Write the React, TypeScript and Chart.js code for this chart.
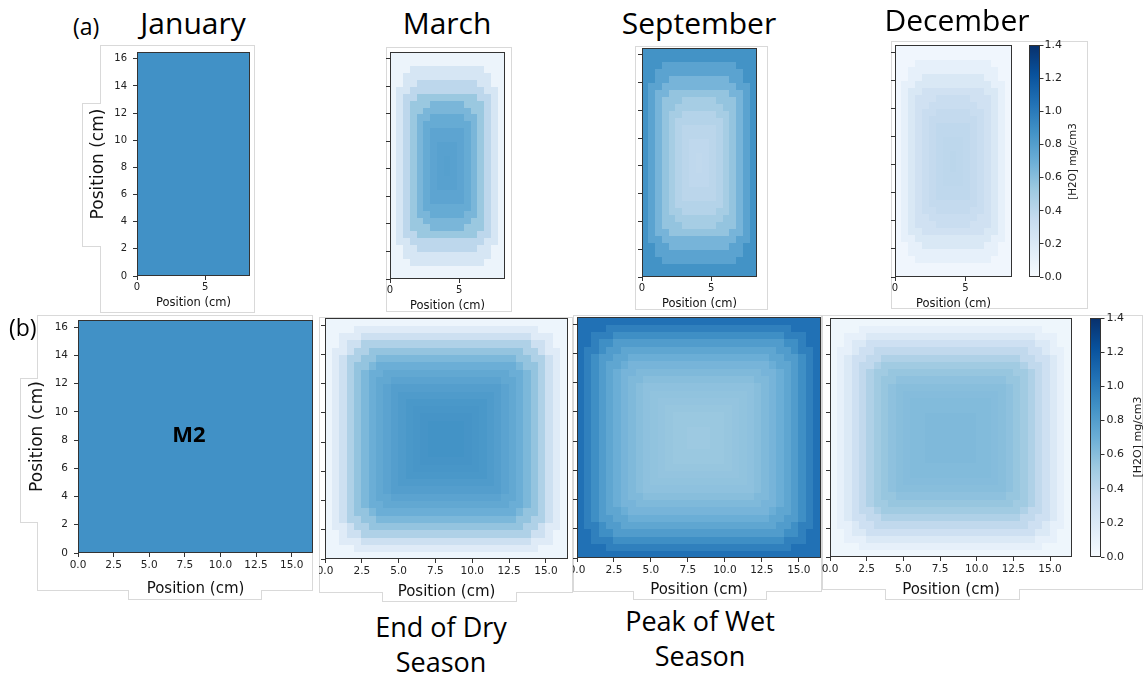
import React, { useEffect, useRef } from 'react';
import { Chart, registerables } from 'chart.js';

Chart.register(...registerables);
Chart.defaults.font.family = "'DejaVu Sans', sans-serif";

// ---------- text ----------
const MONTHS = ['January', 'March', 'September', 'December'];
const SEASON_DRY = ['End of Dry', 'Season'];
const SEASON_WET = ['Peak of Wet', 'Season'];
const AXIS_LABEL = 'Position (cm)';
const CBAR_LABEL = '[H2O] mg/cm3';
const PANEL_TAGS = ['(a)', '(b)'];
const MARK_LABEL = 'M2';

// ---------- ticks ----------
const Y_TICKS = [0, 2, 4, 6, 8, 10, 12, 14, 16];
const X_TICKS_A = [0, 5];
const X_TICKS_B = [0, 2.5, 5, 7.5, 10, 12.5, 15];
const CBAR_TICKS = [0, 0.2, 0.4, 0.6, 0.8, 1.0, 1.2, 1.4];

// ---------- domain ----------
const X_EXTENT_A = 8.3;
const X_EXTENT_B = 16.5;
const Y_EXTENT = 16.5;
const CELLS_A = [17, 33];
const CELLS_B = [33, 33];
const V_MAX = 1.4;

// ---------- [H2O] (mg/cm3) per ring, outermost ring first ----------
const JAN_A = [0.88];
const MAR_A = [0.08, 0.23, 0.39, 0.54, 0.65, 0.72, 0.76, 0.78, 0.79];
const SEP_A = [0.87, 0.77, 0.66, 0.56, 0.49, 0.43, 0.4, 0.38, 0.37];
const DEC_A = [0.05, 0.12, 0.21, 0.28, 0.33, 0.36, 0.38, 0.39, 0.4];

const JAN_B = [0.88];
const MAR_B = [0.07, 0.17, 0.3, 0.45, 0.56, 0.64, 0.7, 0.74, 0.77, 0.8, 0.82, 0.84, 0.85, 0.86, 0.87, 0.87, 0.87];
const SEP_B = [1.05, 0.97, 0.89, 0.81, 0.75, 0.7, 0.66, 0.63, 0.6, 0.58, 0.57, 0.56, 0.55, 0.54, 0.54, 0.53, 0.53];
const DEC_B = [0.06, 0.12, 0.2, 0.29, 0.37, 0.45, 0.51, 0.55, 0.58, 0.6, 0.61, 0.62, 0.62, 0.63, 0.63, 0.63, 0.63];

// ---------- colormap (matplotlib Blues) ----------
const BLUES = ['#f7fbff', '#deebf7', '#c6dbef', '#9ecae1', '#6baed6', '#4292c6', '#2171b5', '#08519c', '#08306b'];
const hex = (h: string) => [1, 3, 5].map((k) => parseInt(h.slice(k, k + 2), 16));
const BLUES_RGB = BLUES.map(hex);
function blues(t: number): string {
  const tt = Math.max(0, Math.min(1, t)) * (BLUES.length - 1);
  const i = Math.min(BLUES.length - 2, Math.floor(tt));
  const f = tt - i;
  const a = BLUES_RGB[i], b = BLUES_RGB[i + 1];
  const c = a.map((v, k) => Math.round(v + (b[k] - v) * f));
  return `rgb(${c[0]},${c[1]},${c[2]})`;
}

type Box = { l: number; t: number; r: number; b: number };

type HeatSpec = {
  canvas: Box;
  plot: Box;
  xMax: number;
  cells: number[];
  rings: number[];
  shape: number;
  xTicks: number[];
  xDecimals: number;
  tickSize: number;
  showYLabels: boolean;
  yTitleOffset?: number;
  xTitleSize: number;
  xTitleOffset: number;
};

const TICK_COLOR = '#222';
const FRAME_COLOR = '#333';

const PANELS: HeatSpec[] = [
  { canvas: { l: 82, t: 45, r: 256, b: 313 }, plot: { l: 137, t: 52, r: 250, b: 276 }, xMax: X_EXTENT_A, cells: CELLS_A, rings: JAN_A, shape: 4.5, xTicks: X_TICKS_A, xDecimals: 0, tickSize: 10, showYLabels: true, yTitleOffset: 17, xTitleSize: 11.5, xTitleOffset: 9.7 },
  { canvas: { l: 386, t: 47, r: 512, b: 312 }, plot: { l: 390, t: 52, r: 505, b: 279 }, xMax: X_EXTENT_A, cells: CELLS_A, rings: MAR_A, shape: 4.5, xTicks: X_TICKS_A, xDecimals: 0, tickSize: 10, showYLabels: false, xTitleSize: 11.5, xTitleOffset: 6 },
  { canvas: { l: 635, t: 46, r: 768, b: 310 }, plot: { l: 642, t: 48, r: 757, b: 277 }, xMax: X_EXTENT_A, cells: CELLS_A, rings: SEP_A, shape: 4.5, xTicks: X_TICKS_A, xDecimals: 0, tickSize: 10, showYLabels: false, xTitleSize: 11.5, xTitleOffset: 6 },
  { canvas: { l: 891, t: 41, r: 1020, b: 310 }, plot: { l: 895, t: 45, r: 1012, b: 277 }, xMax: X_EXTENT_A, cells: CELLS_A, rings: DEC_A, shape: 4.5, xTicks: X_TICKS_A, xDecimals: 0, tickSize: 10, showYLabels: false, xTitleSize: 11.5, xTitleOffset: 5.7 },
  { canvas: { l: 20, t: 315, r: 314, b: 600 }, plot: { l: 78, t: 320, r: 313, b: 553 }, xMax: X_EXTENT_B, cells: CELLS_B, rings: JAN_B, shape: 7, xTicks: X_TICKS_B, xDecimals: 1, tickSize: 10.5, showYLabels: true, yTitleOffset: 18, xTitleSize: 15, xTitleOffset: 11 },
  { canvas: { l: 319, t: 316, r: 573, b: 602 }, plot: { l: 325, t: 318, r: 568, b: 559 }, xMax: X_EXTENT_B, cells: CELLS_B, rings: MAR_B, shape: 7, xTicks: X_TICKS_B, xDecimals: 1, tickSize: 10.5, showYLabels: false, xTitleSize: 15, xTitleOffset: 10.3 },
  { canvas: { l: 573, t: 315, r: 822, b: 600 }, plot: { l: 577, t: 317, r: 821, b: 558 }, xMax: X_EXTENT_B, cells: CELLS_B, rings: SEP_B, shape: 7, xTicks: X_TICKS_B, xDecimals: 1, tickSize: 10.5, showYLabels: false, xTitleSize: 15, xTitleOffset: 10 },
  { canvas: { l: 822, t: 315, r: 1086, b: 600 }, plot: { l: 830, t: 318, r: 1072, b: 557 }, xMax: X_EXTENT_B, cells: CELLS_B, rings: DEC_B, shape: 7, xTicks: X_TICKS_B, xDecimals: 1, tickSize: 10.5, showYLabels: false, xTitleSize: 15, xTitleOffset: 10 },
];

type CbarSpec = { canvas: Box; plot: Box; labelX: number; labelY: number; labelSize: number; tickSize: number; tickPad: number };
const CBARS: CbarSpec[] = [
  { canvas: { l: 1020, t: 38, r: 1090, b: 290 }, plot: { l: 1029, t: 45, r: 1040, b: 277 }, labelX: 1073, labelY: 161.5, labelSize: 10.4, tickSize: 11, tickPad: 1 },
  { canvas: { l: 1086, t: 310, r: 1143, b: 570 }, plot: { l: 1090, t: 318, r: 1101, b: 557 }, labelX: 1138, labelY: 437, labelSize: 11, tickSize: 11, tickPad: 2 },
];

function ringValue(rings: number[], i: number, j: number, nx: number, ny: number, pn: number): number {
  const u = ((i + 0.5) / nx) * 2 - 1;
  const v = ((j + 0.5) / ny) * 2 - 1;
  const r = Math.pow(Math.pow(Math.abs(u), pn) + Math.pow(Math.abs(v), pn), 1 / pn);
  const R = rings.length;
  const k = Math.max(0, Math.min(R - 1, Math.floor((1 - r) * R)));
  return rings[k];
}

function strokeFrame(chart: any) {
  const { ctx, chartArea: a } = chart;
  ctx.save();
  ctx.strokeStyle = FRAME_COLOR;
  ctx.lineWidth = 1;
  ctx.strokeRect(Math.round(a.left) + 0.5, Math.round(a.top) + 0.5, Math.round(a.right - a.left) - 1, Math.round(a.bottom - a.top) - 1);
  ctx.restore();
}

const fixTicks = (arr: number[]) => (s: any) => {
  s.ticks = arr.map((v) => ({ value: v }));
};

function makeHeat(canvas: HTMLCanvasElement, s: HeatSpec) {
  const c = s.canvas, p = s.plot;
  const plugin = {
    id: 'heatmapCells',
    beforeDatasetsDraw(chart: any) {
      const { ctx, chartArea: a, scales } = chart;
      const xs = scales.x, ys = scales.y;
      const [nx, ny] = s.cells;
      const dx = s.xMax / nx, dy = Y_EXTENT / ny;
      ctx.save();
      ctx.beginPath();
      ctx.rect(a.left, a.top, a.right - a.left, a.bottom - a.top);
      ctx.clip();
      for (let i = 0; i < nx; i++) {
        for (let j = 0; j < ny; j++) {
          const x0 = xs.getPixelForValue(i * dx), x1 = xs.getPixelForValue((i + 1) * dx);
          const y0 = ys.getPixelForValue(j * dy), y1 = ys.getPixelForValue((j + 1) * dy);
          ctx.fillStyle = blues(ringValue(s.rings, i, j, nx, ny, s.shape) / V_MAX);
          const L = Math.floor(x0), T = Math.floor(y1);
          ctx.fillRect(L, T, Math.ceil(x1) - L, Math.ceil(y0) - T);
        }
      }
      ctx.restore();
    },
    afterDraw(chart: any) {
      strokeFrame(chart);
    },
  };
  const tickFont = { size: s.tickSize, family: "'DejaVu Sans', sans-serif" };
  return new Chart(canvas, {
    type: 'scatter',
    data: { datasets: [] },
    options: {
      animation: false,
      responsive: false,
      maintainAspectRatio: false,
      devicePixelRatio: 1,
      events: [],
      layout: { padding: { left: 0, top: p.t - c.t, right: c.r - p.r, bottom: 0 } },
      plugins: { legend: { display: false }, tooltip: { enabled: false } },
      scales: {
        x: {
          type: 'linear',
          min: 0,
          max: s.xMax,
          afterBuildTicks: fixTicks(s.xTicks),
          afterFit: (sc: any) => {
            sc.height = c.b - p.b;
            sc.paddingLeft = 0; sc.paddingRight = 0; sc.paddingTop = 0; sc.paddingBottom = 0;
          },
          border: { display: false },
          grid: { display: true, drawOnChartArea: false, drawTicks: true, tickLength: 4, color: FRAME_COLOR, lineWidth: 1 },
          ticks: {
            autoSkip: false, maxRotation: 0, minRotation: 0, padding: 1.5, color: TICK_COLOR, font: tickFont,
            callback: (v: any) => Number(v).toFixed(s.xDecimals),
          },
          title: {
            display: true, text: AXIS_LABEL, color: '#111',
            font: { size: s.xTitleSize, lineHeight: 1, family: "'DejaVu Sans', sans-serif" },
            padding: { top: 0, bottom: s.xTitleOffset - s.xTitleSize / 2 },
          },
        },
        y: {
          type: 'linear',
          min: 0,
          max: Y_EXTENT,
          afterBuildTicks: fixTicks(Y_TICKS),
          afterFit: (sc: any) => {
            sc.width = p.l - c.l;
            sc.paddingLeft = 0; sc.paddingRight = 0; sc.paddingTop = 0; sc.paddingBottom = 0;
          },
          border: { display: false },
          grid: { display: true, drawOnChartArea: false, drawTicks: true, tickLength: 4, color: FRAME_COLOR, lineWidth: 1 },
          ticks: {
            display: s.showYLabels, autoSkip: false, padding: 6, color: TICK_COLOR, font: tickFont,
            callback: (v: any) => String(Math.round(Number(v))),
          },
          title: {
            display: s.yTitleOffset !== undefined, text: AXIS_LABEL, color: '#111',
            font: { size: 17, lineHeight: 1, family: "'DejaVu Sans', sans-serif" },
            padding: { top: (s.yTitleOffset || 0) - 8.5, bottom: 0 },
          },
        },
      },
    },
    plugins: [plugin],
  } as any);
}

function makeCbar(canvas: HTMLCanvasElement, s: CbarSpec) {
  const c = s.canvas, p = s.plot;
  const plugin = {
    id: 'colorbar',
    beforeDatasetsDraw(chart: any) {
      const { ctx, chartArea: a, scales } = chart;
      const ys = scales.y;
      const g = ctx.createLinearGradient(0, ys.getPixelForValue(0), 0, ys.getPixelForValue(V_MAX));
      BLUES.forEach((col, k) => g.addColorStop(k / (BLUES.length - 1), col));
      ctx.save();
      ctx.fillStyle = g;
      ctx.fillRect(a.left, a.top, a.right - a.left, a.bottom - a.top);
      ctx.restore();
    },
    afterDraw(chart: any) {
      strokeFrame(chart);
      const { ctx } = chart;
      ctx.save();
      ctx.translate(s.labelX - c.l, s.labelY - c.t);
      ctx.rotate(-Math.PI / 2);
      ctx.font = `${s.labelSize}px 'DejaVu Sans', sans-serif`;
      ctx.fillStyle = TICK_COLOR;
      ctx.textAlign = 'center';
      ctx.textBaseline = 'middle';
      ctx.fillText(CBAR_LABEL, 0, 0);
      ctx.restore();
    },
  };
  return new Chart(canvas, {
    type: 'scatter',
    data: { datasets: [] },
    options: {
      animation: false,
      responsive: false,
      maintainAspectRatio: false,
      devicePixelRatio: 1,
      events: [],
      layout: { padding: { left: p.l - c.l, top: p.t - c.t, right: 0, bottom: c.b - p.b } },
      plugins: { legend: { display: false }, tooltip: { enabled: false } },
      scales: {
        x: { type: 'linear', display: false, min: 0, max: 1 },
        y: {
          type: 'linear',
          position: 'right',
          min: 0,
          max: V_MAX,
          afterBuildTicks: fixTicks(CBAR_TICKS),
          afterFit: (sc: any) => {
            sc.width = c.r - p.r;
            sc.paddingLeft = 0; sc.paddingRight = 0; sc.paddingTop = 0; sc.paddingBottom = 0;
          },
          border: { display: false },
          grid: { display: true, drawOnChartArea: false, drawTicks: true, tickLength: 3.5, color: FRAME_COLOR, lineWidth: 1 },
          ticks: {
            autoSkip: false, padding: s.tickPad, color: TICK_COLOR,
            font: { size: s.tickSize, family: "'DejaVu Sans', sans-serif" },
            callback: (v: any) => Number(v).toFixed(1),
          },
        },
      },
    },
    plugins: [plugin],
  } as any);
}

function ChartCanvas({ box, build }: { box: Box; build: (el: HTMLCanvasElement) => Chart }) {
  const ref = useRef<HTMLCanvasElement>(null);
  useEffect(() => {
    const chart = build(ref.current!);
    return () => chart.destroy();
  }, []);
  const w = box.r - box.l, h = box.b - box.t;
  return (
    <canvas
      ref={ref}
      width={w}
      height={h}
      style={{ position: 'absolute', left: box.l, top: box.t, width: w, height: h }}
    />
  );
}

type Frame = { l: number; t: number; w: number; h: number; noRight?: boolean; noTop?: boolean };
const FRAMES: Frame[] = [
  { l: 100, t: 45, w: 155, h: 268 },
  { l: 82, t: 103, w: 19, h: 144, noRight: true },
  { l: 386, t: 47, w: 126, h: 265 },
  { l: 635, t: 46, w: 133, h: 264 },
  { l: 891, t: 41, w: 197, h: 268 },
  { l: 37, t: 315, w: 276, h: 276 },
  { l: 20, t: 378, w: 18, h: 145, noRight: true },
  { l: 128, t: 590, w: 134, h: 10, noTop: true },
  { l: 319, t: 317, w: 254, h: 276 },
  { l: 382, t: 592, w: 135, h: 10, noTop: true },
  { l: 573, t: 315, w: 249, h: 277 },
  { l: 633, t: 591, w: 134, h: 9, noTop: true },
  { l: 822, t: 315, w: 321, h: 275 },
  { l: 885, t: 589, w: 135, h: 11, noTop: true },
];

const FRAME_LINE = '1px solid #d9d9d9';

export default function App() {
  const txt = (extra: React.CSSProperties): React.CSSProperties => ({
    position: 'absolute',
    fontFamily: "'Open Sans', sans-serif",
    lineHeight: 1,
    whiteSpace: 'nowrap',
    color: '#000',
    ...extra,
  });
  const titleCenters = [193, 447, 699, 957];
  const titleTops = [8.4, 8.4, 8.4, 5.4];
  return (
    <div style={{ position: 'absolute', left: 0, top: 0, width: 1143, height: 677, background: '#fff', overflow: 'hidden' }}>
      {FRAMES.map((f, k) => (
        <div
          key={'f' + k}
          style={{
            position: 'absolute', left: f.l, top: f.t, width: f.w, height: f.h, boxSizing: 'border-box',
            background: '#fff', borderLeft: FRAME_LINE, borderBottom: FRAME_LINE,
            borderTop: f.noTop ? 'none' : FRAME_LINE, borderRight: f.noRight ? 'none' : FRAME_LINE,
          }}
        />
      ))}
      {PANELS.map((s, k) => (
        <ChartCanvas key={'p' + k} box={s.canvas} build={(el) => makeHeat(el, s)} />
      ))}
      {CBARS.map((s, k) => (
        <ChartCanvas key={'c' + k} box={s.canvas} build={(el) => makeCbar(el, s)} />
      ))}
      {MONTHS.map((m, k) => (
        <div key={'m' + k} style={txt({ left: titleCenters[k], top: titleTops[k], fontSize: 30, transform: 'translateX(-50%)' })}>{m}</div>
      ))}
      <div style={txt({ left: 73, top: 14.6, fontSize: 23 })}>{PANEL_TAGS[0]}</div>
      <div style={txt({ left: 9, top: 315.5, fontSize: 23 })}>{PANEL_TAGS[1]}</div>
      <div style={txt({ left: 189, top: 421.5, fontSize: 22, fontWeight: 700, transform: 'translateX(-50%)' })}>{MARK_LABEL}</div>
      <div style={txt({ left: 441, top: 608.6, fontSize: 27, lineHeight: '35px', textAlign: 'center', transform: 'translateX(-50%)' })}>
        {SEASON_DRY.map((l, k) => (<div key={k}>{l}</div>))}
      </div>
      <div style={txt({ left: 700, top: 602.6, fontSize: 27, lineHeight: '35px', textAlign: 'center', transform: 'translateX(-50%)' })}>
        {SEASON_WET.map((l, k) => (<div key={k}>{l}</div>))}
      </div>
    </div>
  );
}
